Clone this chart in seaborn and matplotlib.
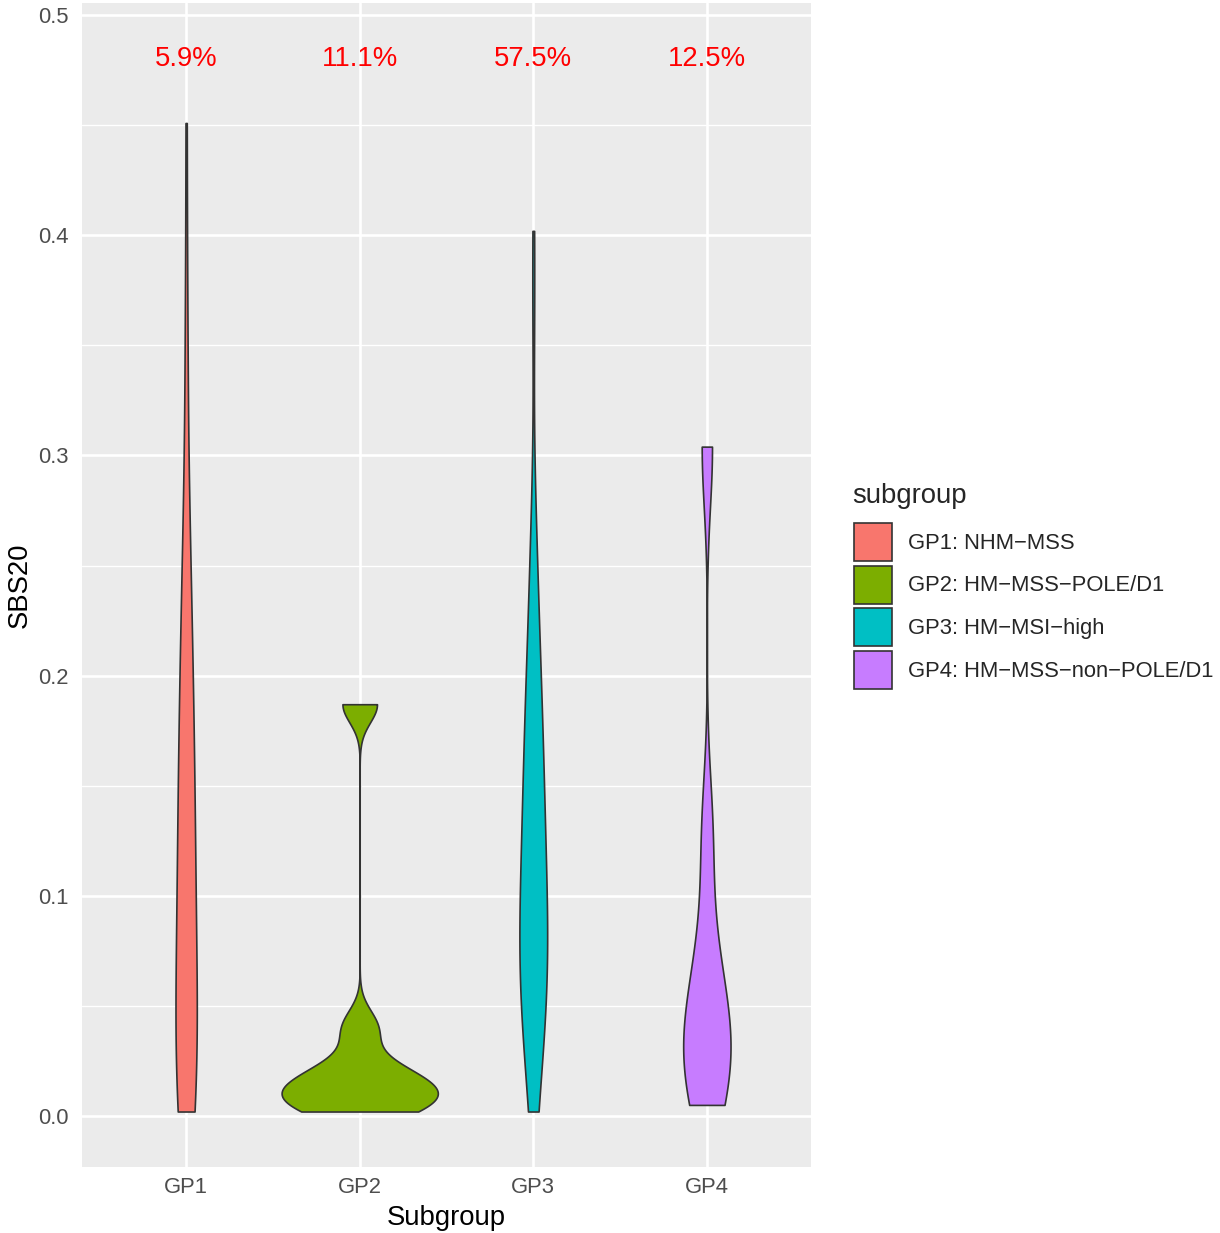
import numpy as np
import pandas as pd
import matplotlib
matplotlib.use("Agg")
import matplotlib.pyplot as plt
from matplotlib.patches import Patch
from matplotlib.ticker import MultipleLocator, NullLocator
import seaborn as sns

# ---- data -------------------------------------------------------------
subgroups = ["GP1", "GP2", "GP3", "GP4"]
subgroup_names = [
    "GP1: NHM\u2212MSS",
    "GP2: HM\u2212MSS\u2212POLE/D1",
    "GP3: HM\u2212MSI\u2212high",
    "GP4: HM\u2212MSS\u2212non\u2212POLE/D1",
]
subgroup_colors = ["#F8766D", "#7CAE00", "#00BFC4", "#C77CFF"]
pct_labels = ["5.9%", "11.1%", "57.5%", "12.5%"]

sbs20_gp1 = [
    0.002, 0.003, 0.004, 0.006, 0.007, 0.009, 0.010, 0.012, 0.014, 0.018,
    0.023, 0.029, 0.035, 0.040, 0.046, 0.052, 0.058, 0.063, 0.069, 0.075,
    0.080, 0.086, 0.092, 0.097, 0.103, 0.109, 0.116, 0.122, 0.128, 0.134,
    0.141, 0.147, 0.154, 0.161, 0.168, 0.175, 0.182, 0.189, 0.196, 0.205,
    0.215, 0.225, 0.235, 0.245, 0.258, 0.274, 0.295, 0.342, 0.371, 0.451,
]
sbs20_gp2 = [0.002, 0.005, 0.009, 0.012, 0.016, 0.022, 0.040, 0.187]
sbs20_gp3 = [
    0.002, 0.008, 0.014, 0.020, 0.026, 0.032, 0.036, 0.040, 0.044, 0.047,
    0.051, 0.054, 0.057, 0.060, 0.062, 0.065, 0.068, 0.071, 0.074, 0.077,
    0.080, 0.082, 0.085, 0.088, 0.091, 0.095, 0.098, 0.102, 0.106, 0.110,
    0.113, 0.117, 0.121, 0.125, 0.129, 0.133, 0.137, 0.141, 0.145, 0.149,
    0.153, 0.158, 0.163, 0.168, 0.173, 0.178, 0.183, 0.188, 0.193, 0.198,
    0.204, 0.212, 0.221, 0.230, 0.239, 0.248, 0.262, 0.280, 0.362, 0.402,
]
sbs20_gp4 = [0.005, 0.018, 0.028, 0.036, 0.050, 0.074, 0.128, 0.304]

values = [sbs20_gp1, sbs20_gp2, sbs20_gp3, sbs20_gp4]
counts = [len(v) for v in values]
df = pd.DataFrame({
    "Subgroup": np.repeat(subgroups, counts),
    "subgroup": np.repeat(subgroup_names, counts),
    "SBS20": np.concatenate(values),
})


def bw_nrd0(kde):
    """Silverman's rule of thumb (R's bw.nrd0), returned as a factor of the sd."""
    x = np.asarray(kde.dataset).ravel()
    sd = np.std(x, ddof=1)
    q75, q25 = np.percentile(x, [75, 25])
    lo = min(sd, (q75 - q25) / 1.34)
    h = 0.9 * lo * len(x) ** -0.2
    return h / sd


# ---- style ------------------------------------------------------------
sns.set_style("darkgrid", {"axes.facecolor": "#EBEBEB", "grid.color": "white"})
plt.rcParams["font.family"] = ["Liberation Sans", "DejaVu Sans"]

fig = plt.figure(figsize=(12.2, 12.33), dpi=100)
ax = fig.add_axes([82 / 1220, 1 - 1167 / 1233, (811 - 82) / 1220, (1167 - 3) / 1233])

sns.violinplot(
    data=df, x="Subgroup", y="SBS20", hue="subgroup",
    order=subgroups, hue_order=subgroup_names,
    palette=dict(zip(subgroup_names, subgroup_colors)), saturation=1,
    inner=None, cut=0, width=0.9, dodge=False,
    density_norm="area", common_norm=True,
    bw_method=bw_nrd0, gridsize=512,
    linewidth=1.2, linecolor="#333333", legend=False, ax=ax,
)

for i, lab in enumerate(pct_labels):
    ax.text(i, 0.48, lab, color="#FF0000", ha="center", va="center", fontsize=19.8)

ax.set_xlim(-0.6, 3.6)
ax.set_ylim(-0.0232, 0.5055)
ax.set_yticks([0.0, 0.1, 0.2, 0.3, 0.4, 0.5])
ax.set_yticklabels(["0.0", "0.1", "0.2", "0.3", "0.4", "0.5"])
ax.yaxis.set_minor_locator(MultipleLocator(0.05))
ax.xaxis.set_minor_locator(NullLocator())
ax.set_axisbelow(True)
ax.grid(which="major", color="white", linewidth=1.9)
ax.grid(which="minor", axis="y", color="white", linewidth=0.95)
for s in ax.spines.values():
    s.set_visible(False)

ax.tick_params(axis="both", which="major", length=5, width=1.1, color="#333333",
               labelcolor="#4D4D4D", labelsize=15.84)
ax.tick_params(axis="x", which="major", pad=2.5)
ax.tick_params(axis="y", which="major", pad=4.3)
ax.tick_params(which="minor", length=0)

ax.set_xlabel("Subgroup", fontsize=19.8, color="black", labelpad=4.5)
ax.set_ylabel("SBS20", fontsize=19.8, color="black", labelpad=4)

# legend
fig.text(852 / 1220, 1 - 503 / 1233, "subgroup", fontsize=19.8, ha="left", va="baseline")
handles = [Patch(facecolor=c, edgecolor="#333333", linewidth=1.2) for c in subgroup_colors]
fig.legend(
    handles, subgroup_names, loc="upper left",
    bbox_to_anchor=(854 / 1220, 1 - 523 / 1233),
    frameon=False, fontsize=15.84,
    handlelength=1.73, handleheight=2.28, handletextpad=0.73,
    labelspacing=0.21, borderpad=0, borderaxespad=0,
)

fig.savefig("out.png", dpi=100)
